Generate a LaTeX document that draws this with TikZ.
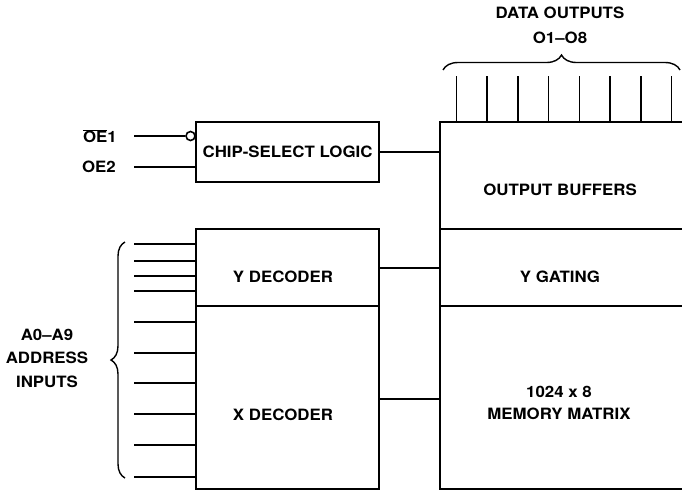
\documentclass[tikz,border=0pt]{standalone}
\usepackage{fontspec}
\setmainfont{TeX Gyre Heros}[FakeStretch=1.08]
\usetikzlibrary{decorations.pathreplacing,positioning}

\tikzset{
  blk/.style={draw,line width=1.9pt,inner sep=0pt},
  wire/.style={line width=1.6pt},
  txt/.style={font=\fontsize{15.6}{25}\selectfont\bfseries,inner sep=0pt,align=center},
  brc/.style={line width=1.4pt,decorate,decoration={brace,amplitude=#1}},
}

\begin{document}
\begin{tikzpicture}[x=1pt,y=-1pt]
\clip (0,0) rectangle (682,493);
% decoders and chip select
\node[blk,minimum width=183pt,minimum height=60pt,txt] (cs) at (287.5,152) {CHIP-SELECT LOGIC};
\node[blk,minimum width=183pt,minimum height=77pt] (ydec) at (287.5,267.5) {};
\node[blk,minimum width=183pt,minimum height=183pt] (xdec) at (287.5,397.5) {};
\node[txt] (ydectxt) at (283,277) {Y DECODER};
\node[txt] (xdectxt) at (283,415) {X DECODER};
% memory side (open to the right)
\node[blk,minimum width=250pt,minimum height=107pt] (obuf) at (565,175.5) {};
\node[blk,minimum width=250pt,minimum height=77pt] (ygate) at (565,267.5) {};
\node[blk,minimum width=250pt,minimum height=183pt] (mem) at (565,397.5) {};
\node[txt] (obuftxt) at (560,190) {OUTPUT BUFFERS};
\node[txt] (ygatetxt) at (560,277) {Y GATING};
\node[txt,font=\fontsize{15.6}{22}\selectfont\bfseries] (memtxt) at (559,403) {1024 x 8\\MEMORY MATRIX};
\draw[wire] (cs.east) -- (cs.east -| obuf.west);
\draw[wire] ([yshift=-0.5pt]ydec.east) -- ([yshift=-0.5pt]ydec.east -| ygate.west);
\draw[wire] ([yshift=-1.5pt]xdec.east) -- ([yshift=-1.5pt]xdec.east -| mem.west);

% enable inputs
\node[txt,anchor=east] (oe1) at (117,136) {$\overline{\hbox{OE}}$1};
\node[txt,anchor=east] (oe2) at (116,167) {OE2};
\coordinate (oe1w) at (134,136);
\coordinate (oe2w) at (134,167);
\node[circle,draw,wire,minimum size=9pt,inner sep=0pt] (bub) at (190.5,136) {};
\draw[wire] (oe1w) -- (bub.west);
\draw[wire] (oe2w) -- (oe2w -| cs.west);

% address inputs
\foreach \y [count=\i] in {244,261,276,291,322,353,383,414,445,477}{
  \coordinate (a\i) at (134,\y);
  \draw[wire] (a\i) -- (a\i -| ydec.west);
}
\draw[brc=14pt] (125,478) -- (125,242);
\node[txt,font=\fontsize{15.6}{23.5}\selectfont\bfseries] (addr) at (47,358) {A0--A9\\ADDRESS\\INPUTS};

% data outputs
\foreach \i in {0,...,7}{
  \coordinate (o\i) at (456.5+30.7*\i,76);
  \draw[wire] (o\i) -- (o\i |- obuf.north);
}
\draw[brc=15pt] (443,70) -- (680,70);
\node[txt] (dout) at (560,25) {DATA OUTPUTS\\O1--O8};
\end{tikzpicture}
\end{document}
